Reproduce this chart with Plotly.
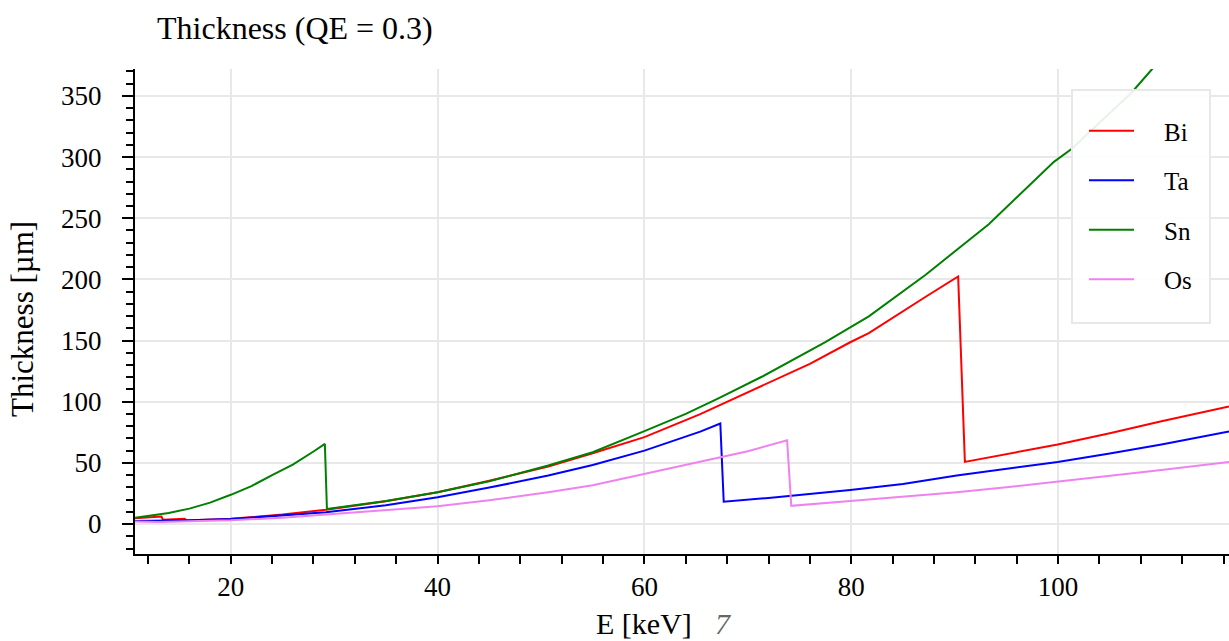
import plotly.graph_objects as go

# ---- data ----
E_bi = [10.74, 13.3, 13.45, 15.55, 15.7, 20, 25, 29.2, 35, 40, 45, 50.7, 55, 60, 65.4, 67.2,
        72, 76, 79.9, 81.7, 87.2, 90.34, 90.99, 95, 99.96, 105, 110, 116.53]
T_bi = [4.7, 6.1, 3.4, 4.2, 2.9, 4.3, 7.7, 11.6, 18.6, 26, 35.3, 47, 57.8, 71, 89.9, 96.9,
        115, 131, 148.6, 156, 185.8, 202.4, 50.8, 56.9, 65, 74.3, 84, 96]

E_ta = [10.74, 13, 16, 20, 25, 29.2, 35, 40, 45, 50.7, 55, 60, 65.4, 67.34, 67.67, 72,
        79.9, 85, 90.2, 95, 99.96, 105, 110, 116.53]
T_ta = [2.4, 2.5, 3.0, 4.1, 7.0, 9.6, 15.4, 21.9, 29.8, 39.6, 48.3, 60, 75.5, 82.2, 18.2, 21.3,
        27.9, 32.8, 39.7, 45.2, 50.8, 57.6, 65, 75.6]

E_sn = [10.74, 12, 14, 16, 18, 20, 22, 24, 26, 28, 29.1, 29.3, 35, 40, 45, 50.7, 55, 60, 64,
        67.2, 71.4, 77.45, 81.7, 87.2, 93.3, 99.6, 101.3, 107.1, 109.1, 116.53]
T_sn = [5.1, 6.5, 9.0, 12.6, 17.5, 23.9, 31, 40, 48.5, 59.3, 65.5, 12.3, 18.8, 26, 34.9, 47.8,
        58.7, 75.9, 90, 103, 120.6, 148.6, 169.8, 203.8, 245.1, 296.1, 306.6, 352.6, 372, 440]

E_os = [10.74, 13, 16, 20, 25, 29.2, 35, 40, 45, 50.7, 55, 60, 65.4, 67.2, 70, 73.8, 74.2,
        79.9, 85, 90.2, 95, 99.96, 105, 110, 116.53]
T_os = [2.0, 1.6, 2.2, 3.0, 5.2, 7.8, 11.2, 14.5, 19.5, 26, 31.7, 41, 50.5, 54, 59.5, 68.4, 14.9,
        18.8, 22.1, 25.9, 30.0, 34.7, 39.2, 44.1, 50.8]

series = [("Bi", E_bi, T_bi, "red"),
          ("Ta", E_ta, T_ta, "blue"),
          ("Sn", E_sn, T_sn, "green"),
          ("Os", E_os, T_os, "violet")]

FONT = "Liberation Serif"
NB = "\u00a0\u00a0\u00a0\u00a0"

# plot-area pixel geometry helpers (for placing texts and legend box)
L, R, T, B = 135, 1229, 69, 554
def px(x):
    return (x - L) / (R - L)
def py(y):
    return (B - y) / (B - T)

fig = go.Figure()
for name, xs, ys, col in series:
    fig.add_trace(go.Scatter(x=xs, y=ys, mode="lines", name=NB + name, legendgroup=name,
                             line=dict(color=col, width=2)))

fig.update_layout(
    template="none",
    width=1229, height=641, autosize=False,
    margin=dict(l=L, r=1229 - R, t=T, b=641 - B),
    paper_bgcolor="white", plot_bgcolor="white",
    font=dict(family=FONT, size=27, color="black"),
    title=dict(text="Thickness (QE = 0.3)", x=157 / 1229, xanchor="left",
               y=1 - 28 / 641, yanchor="middle", xref="container", yref="container",
               font=dict(family=FONT, size=32, color="black")),
    legend=dict(x=px(1084), y=py(108), xanchor="left", yanchor="top",
                bgcolor="rgba(0,0,0,0)", borderwidth=0,
                font=dict(family=FONT, size=25, color="black"),
                traceorder="grouped", tracegroupgap=14, itemwidth=45),
    showlegend=True,
    shapes=[dict(type="rect", xref="paper", yref="paper",
                 x0=px(1072), x1=px(1210), y0=py(323), y1=py(90),
                 fillcolor="rgba(255,255,255,0.9)", line=dict(color="#e8e8e8", width=2),
                 layer="above")],
)

fig.update_xaxes(range=[10.74, 116.53], dtick=20, tick0=0, showgrid=True, gridcolor="#e8e8e8",
                 gridwidth=2, showline=True, linecolor="black", linewidth=2, ticks="outside",
                 ticklen=8, tickwidth=2, tickcolor="black", zeroline=False,
                 tickfont=dict(family=FONT, size=27, color="black"),
                 minor=dict(dtick=4, tick0=0, ticks="outside", ticklen=8, tickwidth=2,
                            tickcolor="black", showgrid=False))
fig.update_yaxes(range=[-24.5, 372], dtick=50, tick0=0, showgrid=True, gridcolor="#e8e8e8",
                 gridwidth=2, showline=True, linecolor="black", linewidth=2, ticks="outside",
                 ticklen=11, tickwidth=2, tickcolor="black", zeroline=False,
                 tickfont=dict(family=FONT, size=27, color="black"),
                 ticklabelstandoff=15,
                 minor=dict(dtick=10, tick0=0, ticks="outside", ticklen=7, tickwidth=2,
                            tickcolor="black", showgrid=False))

# axis titles placed as annotations (positions as in the reference)
fig.add_annotation(text="E [keV]", xref="paper", yref="paper",
                   x=px(643.5), y=py(623), xanchor="center",
                   yanchor="middle", showarrow=False, font=dict(family=FONT, size=30))
fig.add_annotation(text="<i>7</i>", xref="paper", yref="paper",
                   x=px(723), y=py(623), xanchor="center",
                   yanchor="middle", showarrow=False,
                   font=dict(family=FONT, size=30, color="#666666"))
fig.add_annotation(text="Thickness [µm]", xref="paper", yref="paper", textangle=-90,
                   x=px(22), y=py(319), xanchor="center",
                   yanchor="middle", showarrow=False, font=dict(family=FONT, size=31))

fig.write_html("out.html")
